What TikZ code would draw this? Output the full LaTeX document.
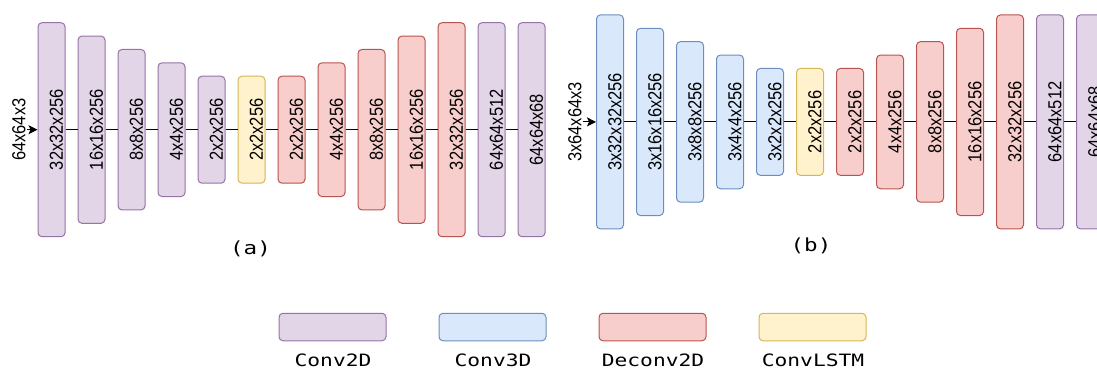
\documentclass[tikz,border=0pt]{standalone}
\usepackage{graphicx}
\usepackage{fontspec}
\setmainfont{Liberation Sans}
\newfontfamily\monofnt[FakeStretch=1.25]{DejaVu Sans Mono}
\usetikzlibrary{arrows.meta,positioning}
\definecolor{purpfill}{HTML}{E1D5E7}\definecolor{purpdraw}{HTML}{9673A6}
\definecolor{bluefill}{HTML}{DAE8FC}\definecolor{bluedraw}{HTML}{6C8EBF}
\definecolor{redfill}{HTML}{F8CECC}\definecolor{reddraw}{HTML}{B85450}
\definecolor{yelfill}{HTML}{FFF2CC}\definecolor{yeldraw}{HTML}{D6B656}
% 縦書きのラベル
\newcommand{\vlab}[1]{\scalebox{1.14}[1]{\rotatebox{90}{#1\rule{0pt}{20pt}}}}
\newcommand{\inlab}[1]{\scalebox{1.14}[1]{\rotatebox{90}{#1}}}
\tikzset{
  layer/.style={draw, rounded corners=4pt, minimum width=27pt, inner sep=0pt,
    line width=1pt, font=\fontsize{16.5}{16.5}\selectfont},
  conv2d/.style={layer, fill=purpfill, draw=purpdraw},
  conv3d/.style={layer, fill=bluefill, draw=bluedraw},
  deconv/.style={layer, fill=redfill, draw=reddraw},
  lstm/.style={layer, fill=yelfill, draw=yeldraw},
  link/.style={line width=1pt},
  feed/.style={line width=1pt, -{Stealth[length=9pt,width=9pt,inset=2pt]}},
  inname/.style={inner sep=1pt, font=\fontsize{16.5}{16.5}\selectfont},
  captxt/.style={inner sep=0pt, font=\monofnt\fontsize{18}{18}\selectfont},
  keytxt/.style={inner sep=0pt, font=\monofnt\fontsize{17}{17}\selectfont}
}
\begin{document}
\begin{tikzpicture}[x=1pt,y=-1pt]
  \useasboundingbox (0,0) rectangle (1097,369);
  \clip (0,0) rectangle (1097,369);
  % (a)
  \foreach \lab/\k/\sty [count=\i] in {32x32x256/4/conv2d, 16x16x256/3/conv2d,
      8x8x256/2/conv2d, 4x4x256/1/conv2d, 2x2x256/0/conv2d, 2x2x256/0/lstm,
      2x2x256/0/deconv, 4x4x256/1/deconv, 8x8x256/2/deconv, 16x16x256/3/deconv,
      32x32x256/4/deconv, 64x64x512/4/conv2d, 64x64x68/4/conv2d}
    \node[\sty, minimum height={107pt+26.75pt*\k}] (a\i) at ({51.5+40*(\i-1)},129.7) {\vlab{\lab}};
  \foreach \i [count=\j from 2] in {1,...,12}
    \draw[link] (a\i) -- (a\j);
  \node[inname] (ina) at (19,129.7) {\inlab{64x64x3}};
  \draw[feed] (ina) -- (a1);
  \node[captxt] (capa) at (250.5,249) {(a)};
  % (b)
  \foreach \lab/\k/\sty [count=\i] in {3x32x32x256/4/conv3d, 3x16x16x256/3/conv3d,
      3x8x8x256/2/conv3d, 3x4x4x256/1/conv3d, 3x2x2x256/0/conv3d, 2x2x256/0/lstm,
      2x2x256/0/deconv, 4x4x256/1/deconv, 8x8x256/2/deconv, 16x16x256/3/deconv,
      32x32x256/4/deconv, 64x64x512/4/conv2d, 64x64x68/4/conv2d}
    \node[\sty, minimum height={107pt+26.75pt*\k}] (b\i) at ({610+40*(\i-1)},121.9) {\vlab{\lab}};
  \foreach \i [count=\j from 2] in {1,...,12}
    \draw[link] (b\i) -- (b\j);
  \node[inname] (inb) at (575,121.9) {\inlab{3x64x64x3}};
  \draw[feed] (inb) -- (b1);
  \node[captxt] (capb) at (811,246) {(b)};
  % 凡例
  \foreach \sty/\txt [count=\i] in {conv2d/Conv2D, conv3d/Conv3D, deconv/Deconv2D, lstm/ConvLSTM}{
    \node[\sty, minimum width=107pt, minimum height=27.5pt] (key\i) at ({332.5+160*(\i-1)},327) {};
    \node[keytxt, anchor=base] (keylab\i) at ({333+160*(\i-1)},366.5) {\txt};
  }
\end{tikzpicture}
\end{document}
